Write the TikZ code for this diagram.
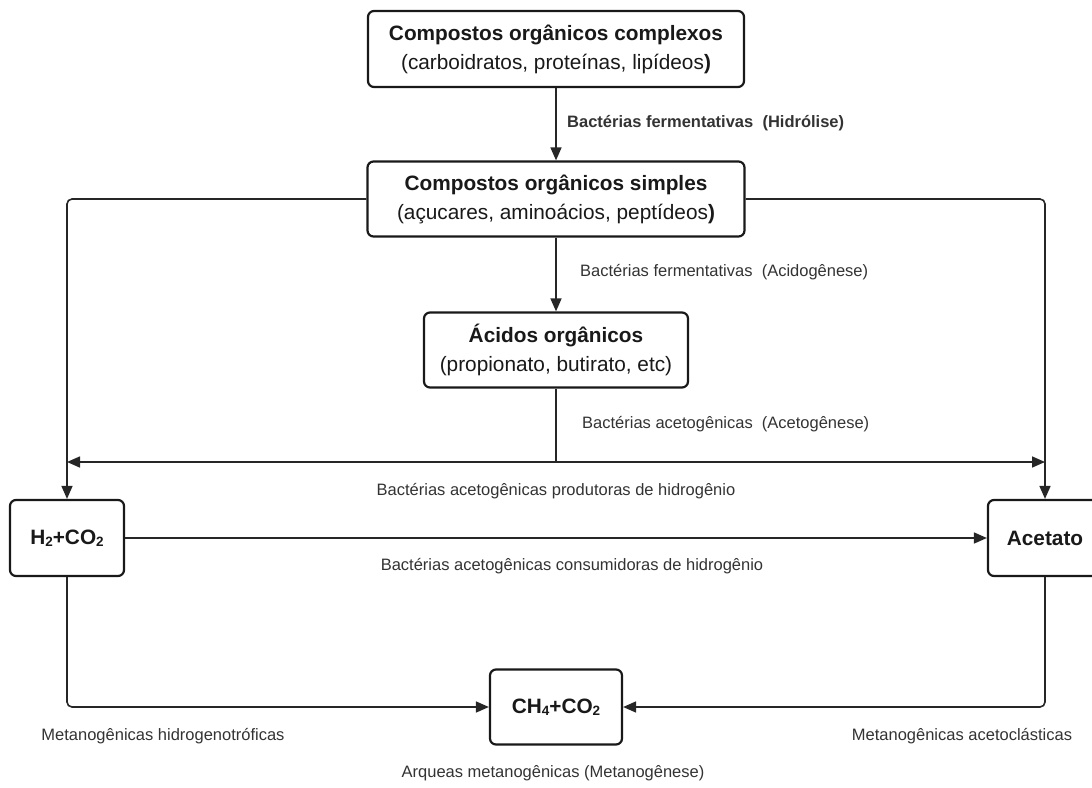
\documentclass[tikz,border=0pt]{standalone}
\usepackage{fontspec}
\setmainfont{Liberation Sans}
\usetikzlibrary{arrows.meta}
\newcommand{\mysub}[1]{\raisebox{-0.15ex}{\fontsize{13.5}{14}\selectfont #1}}
\begin{document}
\begin{tikzpicture}[x=1pt,y=-1pt,
  box/.style={draw=black!90, line width=2.2pt, rounded corners=6pt, fill=white, align=center, inner sep=0pt, font=\fontsize{20.8}{29}\selectfont, text=black!90},
  conn/.style={line width=1.6pt, draw=black!85, rounded corners=5pt},
  arr/.style={conn, -{Triangle[length=13pt,width=11pt]}},
  lab/.style={font=\fontsize{16.5}{20}\selectfont, text=black!80, inner sep=0pt},
  ]
\useasboundingbox (0,0) rectangle (1092,787);
\node[box, minimum width=376pt, minimum height=76pt] (b1) at (556,49)
  {\textbf{Compostos orgânicos complexos}\\(carboidratos, proteínas, lipídeos\textbf{)}};
\node[box, minimum width=377pt, minimum height=75pt] (b2) at (556,199)
  {\textbf{Compostos orgânicos simples}\\(açucares, aminoácios, peptídeos\textbf{)}};
\node[box, minimum width=264pt, minimum height=75pt] (b3) at (556,350)
  {\textbf{Ácidos orgânicos}\\(propionato, butirato, etc)};
\node[box, minimum width=114pt, minimum height=76pt] (h2) at (67,538)
  {\textbf{H\mysub{2}+CO\mysub{2}}};
\node[box, minimum width=114pt, minimum height=76pt] (ac) at (1045,538)
  {\textbf{Acetato}};
\node[box, minimum width=132pt, minimum height=75pt] (ch4) at (556,707)
  {\textbf{CH\mysub{4}+CO\mysub{2}}};

\coordinate (j) at (556,462);
\coordinate (hl) at (67,462);
\coordinate (hr) at (1045,462);

\draw[arr] (b1.south) -- (b2.north);
\draw[arr] (b2.south) -- (b3.north);
\draw[arr] (b2.west) -| (h2.north);
\draw[arr] (b2.east) -| (ac.north);
\draw[conn] (b3.south) -- (j);
\draw[conn, {Triangle[length=13pt,width=11pt]}-{Triangle[length=13pt,width=11pt]}] (hl) -- (hr);
\draw[arr] (h2.east) -- (ac.west);
\draw[arr] (h2.south) |- (ch4.west);
\draw[arr] (ac.south) |- (ch4.east);

\node[lab, anchor=west, font=\fontsize{16.5}{20}\selectfont\bfseries] (l1) at (567,123) {Bactérias fermentativas\ \ (Hidrólise)};
\node[lab, anchor=west] (l2) at (580,272) {Bactérias fermentativas\ \ (Acidogênese)};
\node[lab, anchor=west] (l3) at (582,424) {Bactérias acetogênicas\ \ (Acetogênese)};
\node[lab] (l4) at (556,491) {Bactérias acetogênicas produtoras de hidrogênio};
\node[lab] (l5) at (572,566) {Bactérias acetogênicas consumidoras de hidrogênio};
\node[lab] (l6) at (163,736) {Metanogênicas hidrogenotróficas};
\node[lab] (l7) at (962,736) {Metanogênicas acetoclásticas};
\node[lab] (l8) at (553,773) {Arqueas metanogênicas (Metanogênese)};
\end{tikzpicture}
\end{document}
